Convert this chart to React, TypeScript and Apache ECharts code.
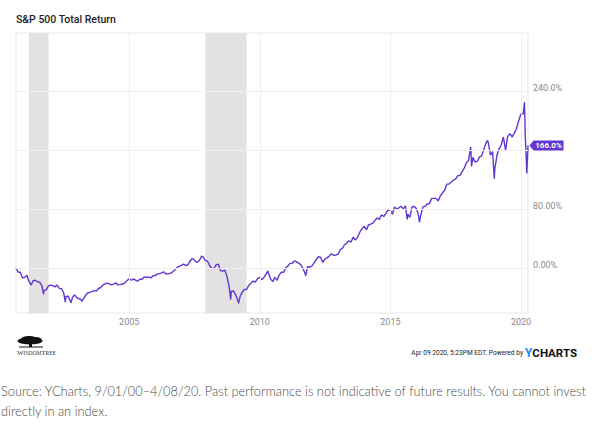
import React, { useEffect, useRef } from "react";
import * as echarts from "echarts";

const dates = [
  "2000-09-01","2000-09-29","2000-10-31","2000-11-30","2000-12-29",
  "2001-01-31","2001-02-28","2001-03-30","2001-04-30","2001-05-31","2001-06-29","2001-07-31","2001-08-31","2001-09-21","2001-09-28","2001-10-31","2001-11-30","2001-12-31",
  "2002-01-31","2002-02-28","2002-03-28","2002-04-30","2002-05-31","2002-06-28","2002-07-23","2002-07-31","2002-08-30","2002-09-30","2002-10-09","2002-10-31","2002-11-29","2002-12-31",
  "2003-01-31","2003-02-28","2003-03-11","2003-03-31","2003-04-30","2003-05-30","2003-06-30","2003-07-31","2003-08-29","2003-09-30","2003-10-31","2003-11-28","2003-12-31",
  "2004-01-30","2004-02-27","2004-03-31","2004-04-30","2004-05-28","2004-06-30","2004-07-30","2004-08-31","2004-09-30","2004-10-29","2004-11-30","2004-12-31",
  "2005-01-31","2005-02-28","2005-03-31","2005-04-29","2005-05-31","2005-06-30","2005-07-29","2005-08-31","2005-09-30","2005-10-31","2005-11-30","2005-12-30",
  "2006-01-31","2006-02-28","2006-03-31","2006-04-28","2006-05-31","2006-06-30","2006-07-31","2006-08-31","2006-09-29","2006-10-31","2006-11-30","2006-12-29",
  "2007-01-31","2007-02-28","2007-03-30","2007-04-30","2007-05-31","2007-06-29","2007-07-31","2007-08-31","2007-09-28","2007-10-09","2007-10-31","2007-11-30","2007-12-31",
  "2008-01-31","2008-02-29","2008-03-31","2008-04-30","2008-05-30","2008-06-30","2008-07-31","2008-08-29","2008-09-30","2008-10-31","2008-11-20","2008-11-28","2008-12-31",
  "2009-01-30","2009-02-27","2009-03-09","2009-03-31","2009-04-30","2009-05-29","2009-06-30","2009-07-31","2009-08-31","2009-09-30","2009-10-30","2009-11-30","2009-12-31",
  "2010-01-29","2010-02-26","2010-03-31","2010-04-23","2010-04-30","2010-05-28","2010-06-30","2010-07-30","2010-08-31","2010-09-30","2010-10-29","2010-11-30","2010-12-31",
  "2011-01-31","2011-02-28","2011-03-31","2011-04-29","2011-05-31","2011-06-30","2011-07-29","2011-08-31","2011-09-30","2011-10-03","2011-10-31","2011-11-30","2011-12-30",
  "2012-01-31","2012-02-29","2012-03-30","2012-04-30","2012-05-31","2012-06-29","2012-07-31","2012-08-31","2012-09-28","2012-10-31","2012-11-30","2012-12-31",
  "2013-01-31","2013-02-28","2013-03-28","2013-04-30","2013-05-31","2013-06-28","2013-07-31","2013-08-30","2013-09-30","2013-10-31","2013-11-29","2013-12-31",
  "2014-01-31","2014-02-28","2014-03-31","2014-04-30","2014-05-30","2014-06-30","2014-07-31","2014-08-29","2014-09-30","2014-10-31","2014-11-28","2014-12-31",
  "2015-01-30","2015-02-27","2015-03-31","2015-04-30","2015-05-29","2015-06-30","2015-07-31","2015-08-24","2015-08-31","2015-09-30","2015-10-30","2015-11-30","2015-12-31",
  "2016-01-29","2016-02-11","2016-02-29","2016-03-31","2016-04-29","2016-05-31","2016-06-30","2016-07-29","2016-08-31","2016-09-30","2016-10-31","2016-11-30","2016-12-30",
  "2017-01-31","2017-02-28","2017-03-31","2017-04-28","2017-05-31","2017-06-30","2017-07-31","2017-08-31","2017-09-29","2017-10-31","2017-11-30","2017-12-29",
  "2018-01-26","2018-01-31","2018-02-08","2018-02-28","2018-03-29","2018-04-30","2018-05-31","2018-06-29","2018-07-31","2018-08-31","2018-09-20","2018-09-28","2018-10-31","2018-11-30","2018-12-24","2018-12-31",
  "2019-01-31","2019-02-28","2019-03-29","2019-04-30","2019-05-31","2019-06-28","2019-07-31","2019-08-30","2019-09-30","2019-10-31","2019-11-29","2019-12-31",
  "2020-01-31","2020-02-19","2020-02-28","2020-03-23","2020-03-31","2020-04-08"
];

const totalReturn = [
  0, -5.4, -5.8, -13.2, -12.8,
  -9.7, -17.9, -23.1, -17.2, -16.6, -18.7, -19.5, -24.5, -35.6, -30.6, -29.2, -23.9, -23.2,
  -24.3, -25.7, -23.0, -27.6, -28.1, -33.2, -46.2, -38.4, -38.1, -44.8, -47.3, -39.9, -36.5, -40.1,
  -41.7, -42.6, -45.4, -42.0, -37.3, -33.9, -33.0, -31.9, -30.6, -31.3, -27.4, -26.8, -23.0,
  -21.5, -20.4, -21.6, -22.9, -21.8, -20.3, -22.9, -22.6, -21.7, -20.5, -17.4, -14.5,
  -16.6, -14.9, -16.3, -17.9, -15.3, -15.2, -12.0, -12.9, -12.1, -13.5, -10.4, -10.3,
  -7.9, -7.7, -6.5, -5.2, -8.1, -7.9, -7.3, -5.2, -2.7, 0.5, 2.3, 3.7,
  5.4, 3.3, 4.4, 9.1, 12.9, 11.0, 7.6, 9.2, 13.3, 16.2, 15.2, 10.2, 9.4,
  3.0, -0.4, -0.8, 4.1, 5.4, -3.5, -4.2, -2.8, -11.6, -26.4, -42.8, -31.7, -31.1,
  -36.8, -43.6, -48.0, -38.7, -32.7, -29.1, -28.9, -23.4, -20.7, -17.7, -19.1, -14.3, -12.6,
  -15.6, -13.1, -7.9, -4.0, -6.4, -14.0, -18.4, -12.6, -16.7, -9.3, -5.8, -5.8, 0.5,
  2.9, 6.3, 6.4, 9.7, 8.3, 6.6, 4.4, -1.4, -8.3, -10.9, 1.7, 1.4, 2.5,
  7.0, 11.6, 15.3, 14.7, 7.6, 12.2, 13.8, 16.3, 19.3, 17.1, 17.7, 18.7,
  24.9, 26.5, 31.2, 33.8, 36.8, 34.9, 42.0, 37.7, 42.1, 48.7, 53.0, 56.8,
  51.6, 58.3, 59.6, 60.9, 64.6, 67.9, 65.8, 72.2, 69.8, 74.1, 78.6, 78.1,
  72.9, 82.7, 79.9, 81.7, 83.8, 80.2, 84.2, 66.0, 72.9, 68.6, 82.9, 83.4, 80.5,
  71.5, 62.0, 71.2, 82.8, 83.6, 86.8, 87.3, 94.2, 94.4, 94.4, 90.9, 97.9, 101.8,
  105.7, 113.7, 113.9, 116.3, 119.1, 120.5, 125.1, 125.6, 130.4, 135.8, 142.9, 145.6,
  164.0, 159.7, 137.6, 150.0, 143.6, 144.8, 150.4, 152.0, 161.4, 169.8, 172.9, 171.5, 153.0, 157.8, 121.0, 134.5,
  153.3, 161.4, 166.4, 177.6, 159.6, 178.1, 182.1, 177.6, 182.8, 189.2, 199.4, 208.7,
  208.6, 225.0, 183.0, 128.0, 148.1, 166.0
];

const yTicks = [0, 80, 160, 240];
const yTickLabels = ["0.00%", "80.00%", "", "240.0%"];
const xTicks = ["2005-01-01", "2010-01-01", "2015-01-01", "2020-01-01"];
const xTickLabels = ["2005", "2010", "2015", "2020"];
const recessions = [
  ["2001-03-01", "2001-11-30"],
  ["2007-12-01", "2009-06-30"]
];
const lastLabel = "166.0%";

const TITLE = "S&P 500 Total Return";
const FOOTER = "Apr 09 2020, 5:23PM EDT. Powered by ";
const CAPTION1 = "Source: YCharts, 9/01/00\u20134/08/20. Past performance is not indicative of future results. You cannot invest";
const CAPTION2 = "directly in an index.";

const PURPLE = "#6236d1";

export default function App() {
  const ref = useRef<HTMLDivElement>(null);
  useEffect(() => {
    document.body.style.margin = "0";
    if (!ref.current) return;
    const chart = echarts.init(ref.current, null, { renderer: "svg" });
    const seriesData = dates.map((d, i) => [d, totalReturn[i]]);
    const lastIdx = dates.length - 1;
    chart.setOption({
      animation: false,
      backgroundColor: "#ffffff",
      grid: {
        left: 16,
        right: 67,
        top: 33,
        bottom: 117,
        show: true,
        borderColor: "#e9e9e9",
        borderWidth: 1,
        backgroundColor: "transparent"
      },
      xAxis: {
        type: "time",
        min: "2000-09-01",
        max: "2020-04-08",
        axisLine: { show: false },
        axisTick: { show: false },
        axisLabel: { show: false },
        splitLine: { show: false }
      },
      yAxis: {
        type: "value",
        min: -61,
        max: 318.6,
        axisLine: { show: false },
        axisTick: { show: false },
        axisLabel: { show: false },
        splitLine: { show: false }
      },
      series: [
        {
          type: "line",
          data: [],
          z: 1,
          silent: true,
          markArea: {
            silent: true,
            itemStyle: { color: "#e2e2e2" },
            data: recessions.map((r) => [{ xAxis: r[0] }, { xAxis: r[1] }])
          },
          markLine: {
            silent: true,
            symbol: ["none", "none"],
            lineStyle: { color: "#efefef", width: 1, type: "solid" },
            data: [
              ...yTicks.map((v, i) => ({
                yAxis: v,
                label: {
                  show: true,
                  position: "end",
                  distance: 5,
                  offset: [0, -3],
                  formatter: yTickLabels[i],
                  color: "#8a8a8a",
                  fontSize: 9,
                  fontFamily: "Roboto"
                }
              })),
              ...xTicks.map((v, i) => ({
                xAxis: v,
                label: {
                  show: true,
                  position: "start",
                  distance: 4,
                  formatter: xTickLabels[i],
                  color: "#8a8a8a",
                  fontSize: 9,
                  fontFamily: "Roboto"
                }
              }))
            ]
          }
        },
        {
          type: "line",
          data: seriesData,
          z: 3,
          showSymbol: false,
          symbol: "none",
          lineStyle: { color: PURPLE, width: 1.4 },
          markPoint: {
            silent: true,
            data: [
              {
                coord: [dates[lastIdx], totalReturn[lastIdx]],
                symbol: "path://M0,5L4,0L34,0L34,10L4,10Z",
                symbolSize: [34, 10],
                symbolOffset: [18.5, 0],
                itemStyle: { color: PURPLE },
                label: {
                  show: true,
                  position: "inside",
                  offset: [2, 0],
                  formatter: lastLabel,
                  color: "#ffffff",
                  fontSize: 8,
                  fontWeight: "bold",
                  fontFamily: "Roboto"
                }
              }
            ]
          }
        }
      ],
      graphic: [
        {
          type: "text",
          left: 16,
          top: 14,
          style: { text: TITLE, fontSize: 10.5, fontFamily: "Roboto", fontWeight: 500, fill: "#222" }
        },
        // WisdomTree tree logo
        { type: "ellipse", shape: { cx: 30, cy: 341, rx: 12.5, ry: 3.4 }, style: { fill: "#111" } },
        { type: "ellipse", shape: { cx: 29, cy: 338.5, rx: 7.5, ry: 2.6 }, style: { fill: "#111" } },
        { type: "ellipse", shape: { cx: 36, cy: 339.5, rx: 5.5, ry: 2.4 }, style: { fill: "#111" } },
        { type: "rect", shape: { x: 29, y: 343, width: 3, height: 4 }, style: { fill: "#111" } },
        { type: "rect", shape: { x: 19, y: 346.5, width: 24, height: 1 }, style: { fill: "#111" } },
        {
          type: "text",
          left: 17,
          top: 349,
          style: {
            text: "{b|W}{s|ISDOM}{b|T}{s|REE}",
            rich: {
              b: { fontSize: 7, fontFamily: "Liberation Serif", fill: "#333" },
              s: { fontSize: 5.5, fontFamily: "Liberation Serif", fill: "#333" }
            }
          }
        },
        {
          type: "text",
          right: 18,
          top: 346,
          style: {
            text: "{f|" + FOOTER + "}{y|Y}{c|CHARTS}",
            rich: {
              f: { fontSize: 6.6, fontFamily: "Roboto", fill: "#222" },
              y: { fontSize: 12.5, fontFamily: "Roboto", fontWeight: "bold", fill: "#2d8cf0" },
              c: { fontSize: 11.5, fontFamily: "Roboto", fontWeight: "bold", fill: "#111" }
            }
          }
        },
        {
          type: "text",
          left: 1,
          top: 384,
          style: { text: CAPTION1, fontSize: 12.8, fontFamily: "Lato", fontWeight: 300, fill: "#4a4a4a" }
        },
        {
          type: "text",
          left: 1,
          top: 404,
          style: { text: CAPTION2, fontSize: 12.8, fontFamily: "Lato", fontWeight: 300, fill: "#4a4a4a" }
        }
      ]
    });
    return () => chart.dispose();
  }, []);
  return <div ref={ref} style={{ width: 595, height: 430 }} />;
}
